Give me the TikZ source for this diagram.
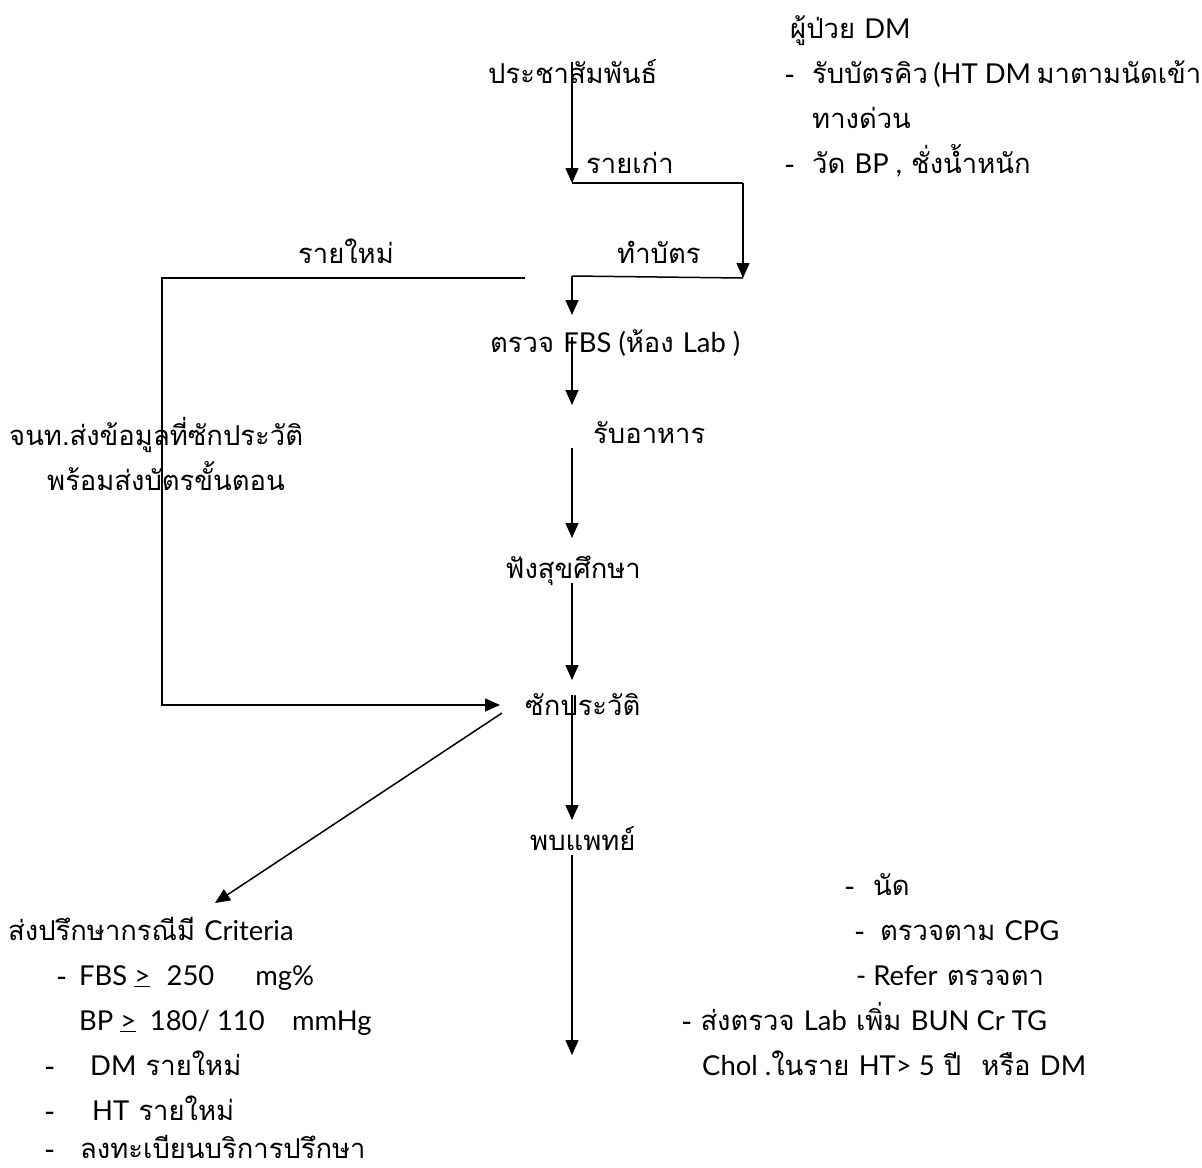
\documentclass[tikz,border=0pt]{standalone}
\usepackage{fontspec}
\setmainfont[Script=Thai]{Loma}
\newfontfamily\lat{Lato}
\usetikzlibrary{arrows.meta}
\begin{document}
\begin{tikzpicture}[x=1bp,y=-1bp,
  every node/.style={anchor=base west,inner sep=0pt,font=\fontsize{27.5}{32}\selectfont},
  flow/.style={line width=1.5bp,-{Triangle[length=15bp,width=13bp]}},
  plain/.style={line width=1.5bp}]
\useasboundingbox[fill=white] (0,0) rectangle (1202,1168);

% main column
\node (pr)   at (488,83)  {ประชาสัมพันธ์};
\node (old)  at (586,173) {รายเก่า};
\node (new)  at (298,263) {รายใหม่};
\node (card) at (617,263) {ทำบัตร};
\node (fbs)  at (490,352) {ตรวจ {\lat FBS (}ห้อง {\lat Lab )}};
\node (food) at (593,443) {รับอาหาร};
\node (edu)  at (505,578) {ฟังสุขศึกษา};
\node (hist) at (525,715) {ซักประวัติ};
\node (doc)  at (530,850) {พบแพทย์};

% patient notes, top right
\node (pt)  at (790,38)  {ผู้ป่วย {\lat DM}};
\node (d1)  at (785,83)  {-};
\node (pt1) at (812,83)  {รับบัตรคิว\hspace{0.2em}{\lat (HT DM}\hspace{0.2em}มาตามนัดเข้า};
\node (pt2) at (812,128) {ทางด่วน};
\node (d2)  at (785,173) {-};
\node (pt3) at (812,173) {วัด {\lat BP ,} ชั่งน้ำหนัก};

% staff note, left
\node (st1) at (9,445)  {จนท.ส่งข้อมูลที่ซักประวัติ};
\node (st2) at (47,490) {พร้อมส่งบัตรขั้นตอน};

% consultation criteria, bottom left
\node (cr)  at (8,940)   {ส่งปรึกษากรณีมี {\lat Criteria}};
\node (d3)  at (57,985)  {-};
\node (cr1) at (79,985)  {\lat FBS \underline{>}\hspace{0.6em}250\hspace{1.5em}mg\%};
\node (cr2) at (79,1030) {\lat BP \underline{>}\hspace{0.5em}180/ 110\hspace{1em}mmHg};
\node (d4)  at (45,1075) {-};
\node (cr3) at (90,1075) {{\lat DM} รายใหม่};
\node (d5)  at (45,1120) {-};
\node (cr4) at (92,1120) {{\lat HT} รายใหม่};
\node (d6)  at (45,1158) {-};
\node (cr5) at (80,1158) {ลงทะเบียนบริการปรึกษา};

% doctor actions, bottom right
\node (d7)  at (845,895)  {-};
\node (dr1) at (873,895)  {นัด};
\node (d8)  at (855,940)  {-};
\node (dr2) at (880,940)  {ตรวจตาม {\lat CPG}};
\node (dr3) at (856,985)  {{\lat - Refer} ตรวจตา};
\node (dr4) at (682,1030) {- ส่งตรวจ {\lat Lab} เพิ่ม {\lat BUN Cr TG}};
\node (dr5) at (702,1075) {{\lat Chol .}ในราย {\lat HT> 5} ปี\hspace{0.4em} หรือ {\lat DM}};

% junction points
\coordinate (a0) at (572,62);
\coordinate (a1) at (572,183);
\coordinate (a2) at (743,183);
\coordinate (a3) at (743,278);
\coordinate (b0) at (572,276);
\coordinate (b1) at (572,315);
\coordinate (n0) at (525,278);
\coordinate (n1) at (162,278);
\coordinate (n2) at (162,705);
\coordinate (n3) at (500,705);
\coordinate (c0) at (572,337);
\coordinate (c1) at (572,405);
\coordinate (e0) at (572,448);
\coordinate (e1) at (572,538);
\coordinate (f0) at (572,583);
\coordinate (f1) at (572,680);
\coordinate (g0) at (572,695);
\coordinate (g1) at (572,820);
\coordinate (h0) at (572,855);
\coordinate (h1) at (572,1055);
\coordinate (k0) at (502,713);
\coordinate (k1) at (215,903);

% connectors
\draw[flow] (a0) -- (a1);
\draw[plain] (a1) -- (a2);
\draw[flow] (a2) -- (a3);
\draw[plain] (b0) -- (a3 -| a2);
\draw[flow] (b0) -- (b1);
\draw[flow] (n0) -- (n1) -- (n2) -- (n3);
\draw[flow] (c0) -- (c1);
\draw[flow] (e0) -- (e1);
\draw[flow] (f0) -- (f1);
\draw[flow] (g0) -- (g1);
\draw[flow] (h0) -- (h1);
\draw[flow] (k0) -- (k1);
\end{tikzpicture}
\end{document}
